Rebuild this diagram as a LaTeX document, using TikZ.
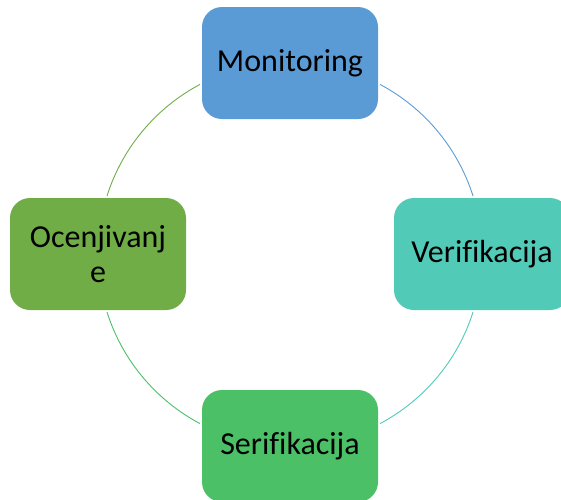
\documentclass[tikz,border=0pt]{standalone}
\usepackage{fontspec}
\setmainfont{Carlito}[Ligatures=NoCommon]
\usetikzlibrary{calc}
\definecolor{cblue}{HTML}{5B9BD5}
\definecolor{cteal}{HTML}{52CAB8}
\definecolor{cgreen}{HTML}{4BC066}
\definecolor{colive}{HTML}{70AD47}
\begin{document}
\begin{tikzpicture}[x=1pt,y=1pt,
  stage/.style={rounded corners=20pt, minimum width=176pt, minimum height=112pt,
    inner sep=0pt, align=center, text=black,
    font=\fontsize{32}{35}\selectfont},
  link/.style={line width=0.9pt}]
\useasboundingbox (0,0) rectangle (561,-499);
\coordinate (c) at (290,-254);
% cycle arcs, each in the colour of the stage it leaves
\coordinate (a1) at ($(c)+(62.05:192)$);
\coordinate (a3) at ($(c)+(-17.57:192)$);
\coordinate (a5) at ($(c)+(-117.95:192)$);
\coordinate (a7) at ($(c)+(162.43:192)$);
\draw[link, cblue]  (a1) arc[start angle=62.05, end angle=17.57, radius=192pt];
\draw[link, cteal]  (a3) arc[start angle=-17.57, end angle=-62.05, radius=192pt];
\draw[link, cgreen] (a5) arc[start angle=-117.95, end angle=-162.43, radius=192pt];
\draw[link, colive] (a7) arc[start angle=162.43, end angle=117.95, radius=192pt];
% stages
\node[stage, fill=cblue]  (mon) at (290,-63)  {Monitoring};
\node[stage, fill=cteal]  (ver) at (482,-254) {Verifikacija};
\node[stage, fill=cgreen] (ser) at (290,-446) {Serifikacija};
\node[stage, fill=colive] (oce) at (98,-254)  {Ocenjivanj\\e};
\end{tikzpicture}
\end{document}
